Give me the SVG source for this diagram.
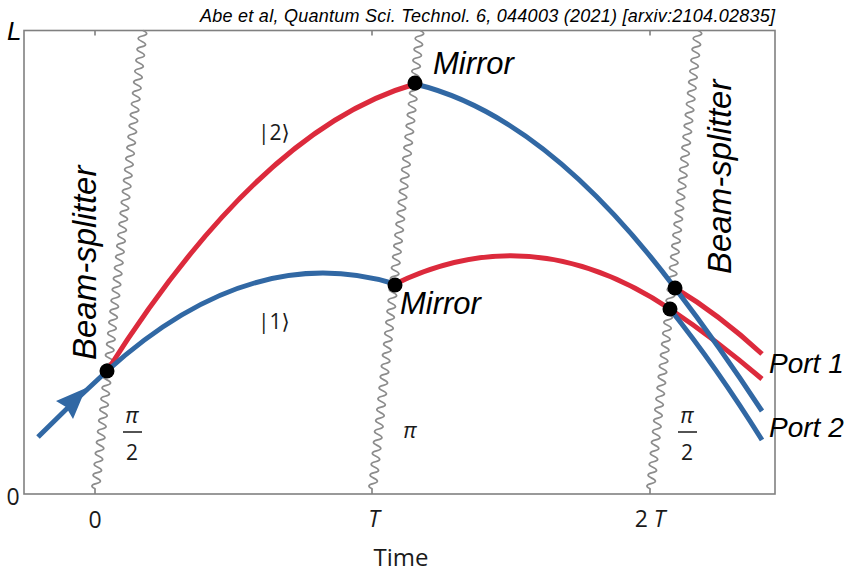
<svg xmlns="http://www.w3.org/2000/svg" xmlns:xlink="http://www.w3.org/1999/xlink" width="846" height="574" viewBox="0 0 846 574">
<style>
.frame{fill:none;stroke:#808080;stroke-width:1.6}
.wave{fill:none;stroke:#8c8c8c;stroke-width:1.7}
.red{fill:none;stroke:#dc2a3c;stroke-width:5}
.blue{fill:none;stroke:#3168a4;stroke-width:5}
.dot{fill:#000}
.lbl{font-family:"Liberation Sans",Arial,sans-serif;font-style:italic;fill:#000}
.math{font-family:"Open Sans","DejaVu Sans",sans-serif;fill:#1a1a1a}
.bar{stroke:#1a1a1a;stroke-width:1.5}
</style>
<defs>
<path id="wv" class="wave" d="M0,0 q8,2.744 0,5.488 t0,5.488 t0,5.488 t0,5.488 t0,5.488 t0,5.488 t0,5.488 t0,5.488 t0,5.488 t0,5.488 t0,5.488 t0,5.488 t0,5.488 t0,5.488 t0,5.488 t0,5.488 t0,5.488 t0,5.488 t0,5.488 t0,5.488 t0,5.488 t0,5.488 t0,5.488 t0,5.488 t0,5.488 t0,5.488 t0,5.488 t0,5.488 t0,5.488 t0,5.488 t0,5.488 t0,5.488 t0,5.488 t0,5.488 t0,5.488 t0,5.488 t0,5.488 t0,5.488 t0,5.488 t0,5.488 t0,5.488 t0,5.488 t0,5.488 t0,5.488 t0,5.488 t0,5.488 t0,5.488 t0,5.488 t0,5.488 t0,5.488 t0,5.488 t0,5.488 t0,5.488 t0,5.488 t0,5.488 t0,5.488 t0,5.488 t0,5.488 t0,5.488 t0,5.488 t0,5.488 t0,5.488 t0,5.488 t0,5.488 t0,5.488 t0,5.488 t0,5.488 t0,5.488 t0,5.488 t0,5.488 t0,5.488 t0,5.488 t0,5.488 t0,5.488 t0,5.488 t0,5.488 t0,5.488 t0,5.488 t0,5.488 t0,5.488 t0,5.488 t0,5.488 t0,5.488 t0,5.488"/>
</defs>
<rect width="846" height="574" fill="#fff"/>
<text class="lbl" x="200" y="22" font-size="18" textLength="575" lengthAdjust="spacing">Abe et al, Quantum Sci. Technol. 6, 044003 (2021) [arxiv:2104.02835]</text>
<g id="axes">
<rect class="frame" x="24" y="30.5" width="751" height="463.5"/>
<path class="frame" d="M95,30.5v5M372,30.5v5M650,30.5v5M95,494v-5M372,494v-5M650,494v-5"/>
<text class="lbl" x="7" y="40" font-size="26">L</text>
<text class="math" x="13" y="505" font-size="23" text-anchor="middle">0</text>
<text class="math" x="95" y="528" font-size="23" text-anchor="middle">0</text>
<text class="math" x="374" y="527" font-size="23" text-anchor="middle" font-style="italic">T</text>
<text class="math" x="650" y="527" font-size="23" text-anchor="middle">2 <tspan font-style="italic">T</tspan></text>
<text class="math" x="401" y="566" font-size="24" text-anchor="middle">Time</text>
</g>
<g id="pulses">
<use xlink:href="#wv" href="#wv" transform="translate(143,30.5) rotate(5.9)"/>
<use xlink:href="#wv" href="#wv" transform="translate(420,30.5) rotate(5.9)"/>
<use xlink:href="#wv" href="#wv" transform="translate(698,30.5) rotate(5.9)"/>
<text class="math" x="132" y="423" font-size="22" text-anchor="middle" font-style="italic">π</text>
<line class="bar" x1="123" y1="432" x2="142" y2="432"/>
<text class="math" x="132" y="460" font-size="21" text-anchor="middle">2</text>
<text class="math" x="410" y="438" font-size="22" text-anchor="middle" font-style="italic">π</text>
<text class="math" x="687" y="423" font-size="22" text-anchor="middle" font-style="italic">π</text>
<line class="bar" x1="678" y1="432" x2="697" y2="432"/>
<text class="math" x="687" y="460" font-size="21" text-anchor="middle">2</text>
</g>
<g id="connectors">
<path class="red" d="M107,371 Q261,127.8 415,84"/>
<path class="red" d="M395,284 Q532.5,217 670,309"/>
<path class="red" d="M675,288 Q718.5,314 762,354"/>
<path class="red" d="M670,309 Q716,339.7 762,379"/>
<path class="blue" d="M38,437 Q72.5,402.3 107,371 Q251,240.4 395,284"/>
<path class="blue" d="M415,84 Q545,115 675,288"/>
<path class="blue" d="M675,288 Q718.5,345 762,411"/>
<path class="blue" d="M670,309 Q716,366.5 762,440"/>
<polygon fill="#3168a4" points="86,388 56,401 66,407 73,419"/>
<text class="math" x="258" y="140" font-size="21">|2⟩</text>
<text class="math" x="258" y="329" font-size="21">|1⟩</text>
</g>
<g id="bs-start">
<circle class="dot" cx="107" cy="371" r="7.5"/>
<text class="lbl" font-size="33" transform="translate(96,360) rotate(-90)">Beam-splitter</text>
</g>
<g id="mirror-top">
<circle class="dot" cx="415" cy="83" r="7.5"/>
<text class="lbl" x="433" y="74" font-size="31">Mirror</text>
</g>
<g id="mirror-bottom">
<circle class="dot" cx="395" cy="285" r="7.5"/>
<text class="lbl" x="400" y="314" font-size="31">Mirror</text>
</g>
<g id="bs-end">
<circle class="dot" cx="675" cy="288" r="7.5"/>
<circle class="dot" cx="670" cy="309" r="7.5"/>
<text class="lbl" font-size="33" transform="translate(731,274) rotate(-90)">Beam-splitter</text>
</g>
<g id="port1"><text class="lbl" x="769" y="373" font-size="28">Port 1</text></g>
<g id="port2"><text class="lbl" x="769" y="437" font-size="28">Port 2</text></g>
</svg>
